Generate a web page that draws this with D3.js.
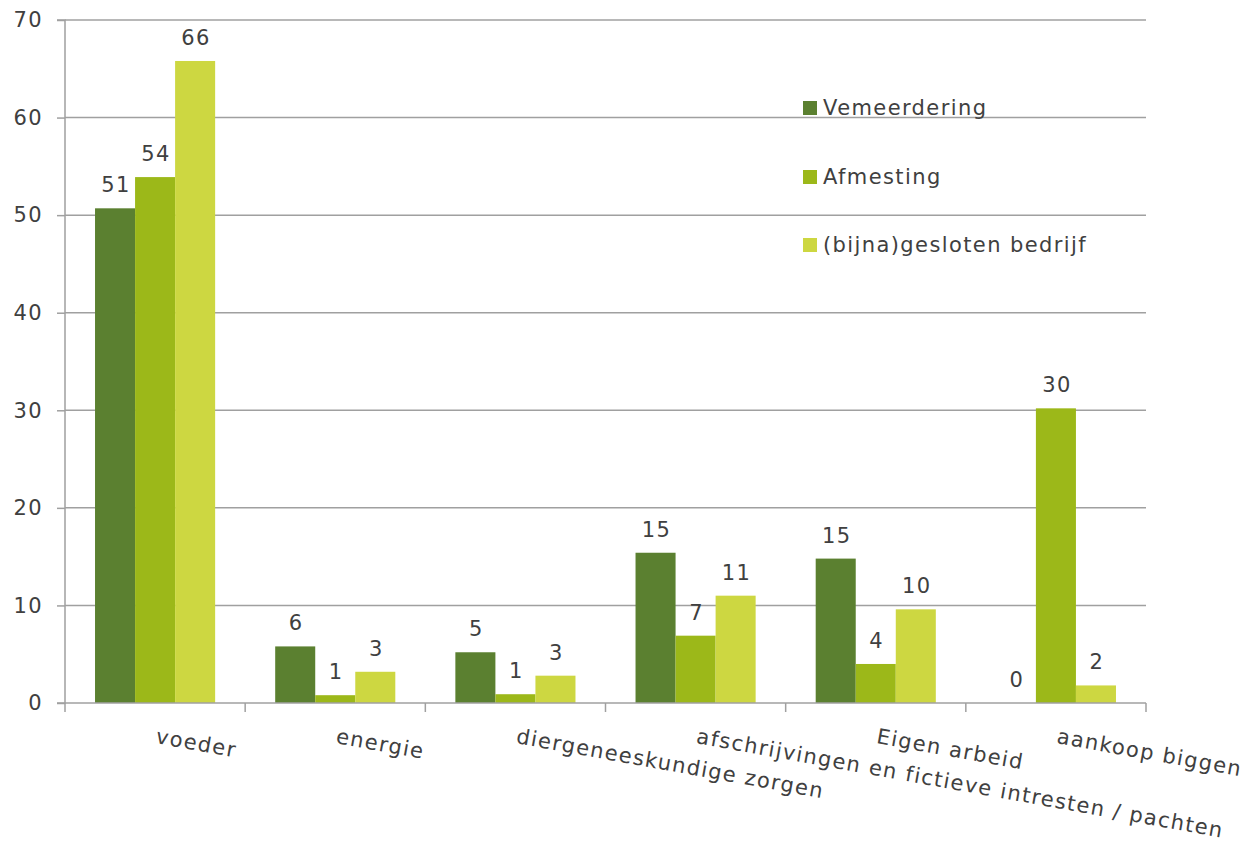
<!DOCTYPE html>
<html><head><meta charset="utf-8">
<script src="https://cdn.jsdelivr.net/npm/d3@7/dist/d3.min.js"></script>
<style>body{margin:0;background:#fff}svg{display:block}text{font-family:"DejaVu Sans",Verdana,sans-serif;fill:#404040;letter-spacing:1.4px}</style>
</head><body>
<svg id="c" width="1256" height="846"></svg>
<script>
const categories = ["voeder","energie","diergeneeskundige zorgen","afschrijvingen en fictieve intresten / pachten","Eigen arbeid","aankoop biggen"];
const seriesNames = ["Vemeerdering","Afmesting","(bijna)gesloten bedrijf"];
const vemeerdering = [50.7, 5.8, 5.2, 15.4, 14.8, 0];
const afmesting = [53.9, 0.8, 0.9, 6.9, 4.0, 30.2];
const gesloten = [65.8, 3.2, 2.8, 11.0, 9.6, 1.8];
const yTicks = [0,10,20,30,40,50,60,70];
const colors = ["#5b8030","#9cb819","#cdd741"];
const seriesValues = [vemeerdering, afmesting, gesloten];

const svg = d3.select("#c");
const L = 65, R = 1146, T = 20, B = 703;
const x = d3.scaleBand().domain(categories).range([L, R]).paddingInner(0).paddingOuter(0);
const xs = d3.scaleBand().domain(seriesNames).range([0, x.bandwidth()]).paddingInner(0).paddingOuter(0.75);
const y = d3.scaleLinear().domain([0,70]).range([B, T]);

// gridlines
svg.append("g").selectAll("line").data(yTicks.filter(d=>d>0)).join("line")
  .attr("x1", L).attr("x2", R).attr("y1", d=>y(d)).attr("y2", d=>y(d))
  .attr("stroke", "#a0a0a0").attr("stroke-width", 1.5);

// y axis
const yAxis = svg.append("g").attr("transform", `translate(${L},0)`)
  .call(d3.axisLeft(y).tickValues(yTicks).tickSize(8).tickPadding(14));
yAxis.select(".domain").attr("stroke", "#a0a0a0").attr("stroke-width", 1.5).attr("d", `M-8,${T}H0V${B}H-8`);
yAxis.selectAll(".tick line").attr("stroke", "#a0a0a0").attr("stroke-width", 1.5);
yAxis.selectAll(".tick text").attr("font-size", 21).style("fill", "#404040").attr("font-family", '"DejaVu Sans",Verdana,sans-serif');

// bars
const groups = svg.append("g").selectAll("g").data(categories).join("g")
  .attr("transform", d=>`translate(${x(d)},0)`);
seriesNames.forEach((s, si) => {
  groups.append("rect")
    .attr("x", xs(s)).attr("width", xs.bandwidth())
    .attr("y", (d,i)=>y(seriesValues[si][i]))
    .attr("height", (d,i)=>B - y(seriesValues[si][i]))
    .attr("fill", colors[si]);
  groups.append("text")
    .attr("x", xs(s) + xs.bandwidth()/2 + 1)
    .attr("y", (d,i)=>y(seriesValues[si][i]) - 16)
    .attr("text-anchor", "middle").attr("font-size", 21)
    .text((d,i)=>Math.round(seriesValues[si][i]));
});

// x axis
const xAxis = svg.append("g").attr("transform", `translate(0,${B})`);
xAxis.append("line").attr("x1", L).attr("x2", R).attr("stroke", "#a0a0a0").attr("stroke-width", 1.5);
const bounds = categories.map(c=>x(c)).concat([R]);
xAxis.selectAll(".tk").data(bounds).join("line").attr("class","tk")
  .attr("x1", d=>d).attr("x2", d=>d).attr("y1", 0).attr("y2", 9)
  .attr("stroke", "#a0a0a0").attr("stroke-width", 1.5);
xAxis.selectAll(".lbl").data(categories).join("text").attr("class","lbl")
  .attr("transform", d=>`translate(${x(d)+x.bandwidth()/2},40) rotate(10.2)`)
  .attr("font-size", 21).attr("text-anchor", "start")
  .text(d=>d);

// legend
const lg = svg.append("g");
const ly = [108, 177, 245];
seriesNames.forEach((s, i) => {
  lg.append("rect").attr("x", 803).attr("y", ly[i]-7).attr("width", 14).attr("height", 14).attr("fill", colors[i]);
  lg.append("text").attr("x", 823).attr("y", ly[i]).attr("dy", "0.35em").attr("font-size", 21).text(s);
});
</script>
</body></html>
